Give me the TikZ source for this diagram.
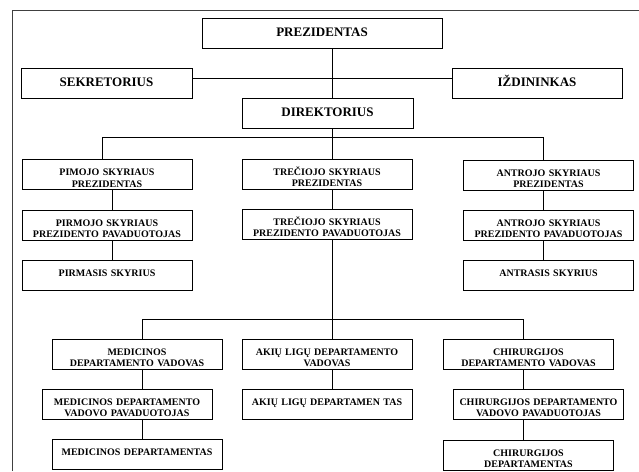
\documentclass[tikz,border=0pt]{standalone}
\usepackage{fontspec}
\setmainfont{Liberation Serif}
\begin{document}
\begin{tikzpicture}[x=1pt, y=-1pt, line width=0.8pt,
	bigbox/.style={draw, inner sep=0pt, minimum height=30pt, text height=18pt, text depth=12pt, align=center, font=\fontsize{13}{15}\selectfont\bfseries},
	unitbox/.style={draw, inner sep=0pt, text width=170pt, text height=16pt, text depth=14pt, align=center, font=\fontsize{10}{11.7}\selectfont\bfseries}]
				\useasboundingbox (0,0) rectangle (639,471);
				\draw [black!75] (12,471) -- (12,10.5) -- (639,10.5);
				\node [bigbox, minimum width=240pt] (prez) at (322,33) {PREZIDENTAS};
				\node [bigbox, minimum width=171pt] (sek) at (106.5,83) {SEKRETORIUS};
				\node [bigbox, minimum width=170pt] (izd) at (537,83) {IŽDININKAS};
				\node [bigbox, minimum width=171pt] (dir) at (327.5,113) {DIREKTORIUS};
				\node [unitbox] (pim1) at (107,174.5) {PIMOJO SKYRIAUS\\PREZIDENTAS};
				\node [unitbox] (pim2) at (107,225) {PIRMOJO SKYRIAUS\\PREZIDENTO PAVADUOTOJAS};
				\node [unitbox] (pim3) at (107,275.5) {PIRMASIS SKYRIUS};
				\node [unitbox] (tre1) at (327,174) {TREČIOJO SKYRIAUS\\PREZIDENTAS};
				\node [unitbox] (tre2) at (327,224) {TREČIOJO SKYRIAUS\\PREZIDENTO PAVADUOTOJAS};
				\node [unitbox] (ant1) at (548.5,175) {ANTROJO SKYRIAUS\\PREZIDENTAS};
				\node [unitbox] (ant2) at (548.5,225) {ANTROJO SKYRIAUS\\PREZIDENTO PAVADUOTOJAS};
				\node [unitbox] (ant3) at (548.5,275.5) {ANTRASIS SKYRIUS};
				\node [unitbox] (med1) at (137,354) {MEDICINOS\\DEPARTAMENTO VADOVAS};
				\node [unitbox] (med2) at (127,404) {MEDICINOS DEPARTAMENTO\\VADOVO PAVADUOTOJAS};
				\node [unitbox] (med3) at (137,454) {MEDICINOS DEPARTAMENTAS};
				\node [unitbox] (aki1) at (327,354) {AKIŲ LIGŲ DEPARTAMENTO\\VADOVAS};
				\node [unitbox] (aki2) at (327,404) {AKIŲ LIGŲ DEPARTAMEN TAS};
				\node [unitbox] (chi1) at (528.5,354) {CHIRURGIJOS\\DEPARTAMENTO VADOVAS};
				\node [unitbox] (chi2) at (538.5,404) {CHIRURGIJOS DEPARTAMENTO\\VADOVO PAVADUOTOJAS};
				\node [unitbox] (chi3) at (528.5,455) {CHIRURGIJOS\\DEPARTAMENTAS};
				\coordinate (spine) at (332.5,78);
				\coordinate (lcol) at (112,0);
				\coordinate (rcol) at (543,0);
				\coordinate (busL) at (102,137);
				\coordinate (busR) at (543,137);
				\coordinate (depL) at (142,319);
				\coordinate (depR) at (523,319);
				\draw (prez.south -| spine) -- (dir.north -| spine);
				\draw (sek.east |- spine) -- (izd.west |- spine);
				\draw (dir.south -| spine) -- (tre1.north -| spine);
				\draw (pim1.north -| busL) -- (busL) -- (busR) -- (ant1.north -| busR);
				\draw (pim1.south -| lcol) -- (pim2.north -| lcol);
				\draw (pim2.south -| lcol) -- (pim3.north -| lcol);
				\draw (tre1.south -| spine) -- (tre2.north -| spine);
				\draw (tre2.south -| spine) -- (aki1.north -| spine);
				\draw (ant1.south -| rcol) -- (ant2.north -| rcol);
				\draw (ant2.south -| rcol) -- (ant3.north -| rcol);
				\draw (med1.north -| depL) -- (depL) -- (depR) -- (chi1.north -| depR);
				\draw (med1.south -| depL) -- (med2.north -| depL);
				\draw (med2.south -| depL) -- (med3.north -| depL);
				\draw (aki1.south -| spine) -- (aki2.north -| spine);
				\draw (chi1.south -| depR) -- (chi2.north -| depR);
				\draw (chi2.south -| depR) -- (chi3.north -| depR);
			\end{tikzpicture}
\end{document}
